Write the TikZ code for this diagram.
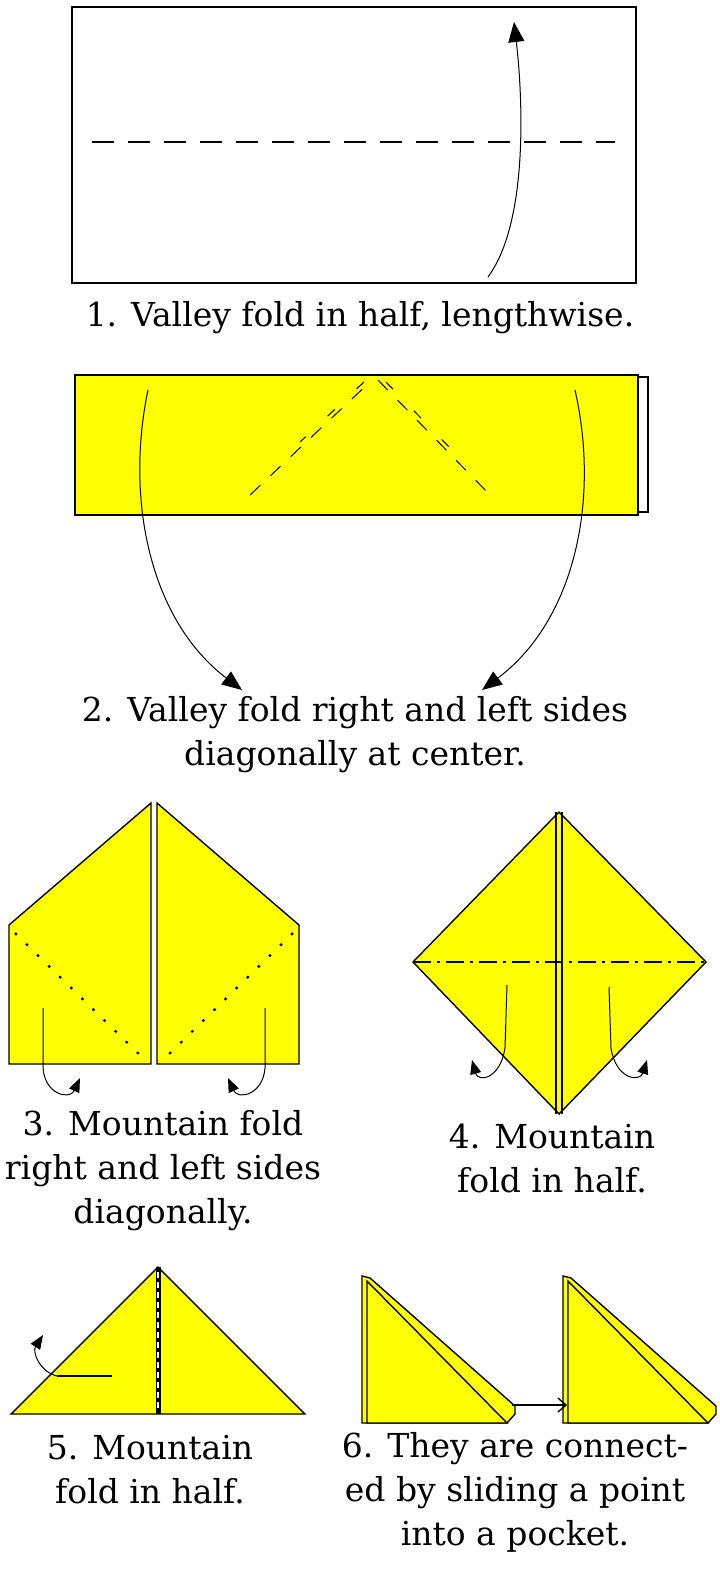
\documentclass[tikz,border=0pt]{standalone}
\usepackage{fontspec}
\setmainfont{DejaVu Serif}
\usetikzlibrary{arrows.meta}
\definecolor{paper}{RGB}{255,255,0}
\begin{document}
\begin{tikzpicture}[x=1pt,y=-1pt]
    \tikzstyle{folded}=[fill=paper,draw=black,line width=1.4pt,line join=miter]
    \tikzstyle{farr}=[line width=1pt,-{Triangle[length=20pt,width=16pt]}]
    \tikzstyle{sarr}=[line width=1pt,-{Triangle[length=14pt,width=11pt]}]
    \tikzstyle{capt}=[font=\fontsize{33}{44}\selectfont,align=center,inner sep=0pt]
    \useasboundingbox (0,0) rectangle (720,1575);

    % step 1
    \draw[line width=1.6pt] (72,7) rectangle (636,283);
    \draw[line width=1.2pt,dash pattern=on 22pt off 14pt] (92,142) -- (615,142);
    \draw[farr] (488,277) .. controls (530,220) and (522,90) .. (514,22);
    \node[capt] (c1) at (360,318) {1. Valley fold in half, lengthwise.};

    % step 2
    \draw[line width=1.2pt,fill=white] (630,377) rectangle (648,512);
    \draw[folded] (75,375) rectangle (638,515);
    \draw[line width=1pt,dash pattern=on 14pt off 14pt] (250,495) -- (372,380);
    \draw[line width=1pt,dash pattern=on 14pt off 14pt] (378,380) -- (490,495);
    \draw[line width=1pt,dash pattern=on 10pt off 30pt] (364,382) -- (300,442);
    \draw[line width=1pt,dash pattern=on 10pt off 30pt] (386,382) -- (450,448);
    \draw[farr] (148,390) .. controls (125,500) and (150,620) .. (242,690);
    \draw[farr] (575,390) .. controls (600,500) and (575,620) .. (482,690);
    \node[capt] (c2) at (355,735) {2. Valley fold right and left sides\\diagonally at center.};

    % step 3
    \draw[folded] (9,925) -- (151,803) -- (151,1064) -- (9,1064) -- cycle;
    \draw[folded] (157,803) -- (299,925) -- (299,1064) -- (157,1064) -- cycle;
    \draw[line width=2.2pt,dash pattern=on 2.5pt off 13pt] (15,933) -- (145,1060);
    \draw[line width=2.2pt,dash pattern=on 2.5pt off 13pt] (293,933) -- (163,1060);
    \draw[sarr] (43,1008) -- (43,1068) .. controls (45,1095) and (70,1100) .. (80,1078);
    \draw[sarr] (265,1008) -- (265,1068) .. controls (263,1095) and (238,1100) .. (228,1078);
    \node[capt] (c3) at (163,1171) {3. Mountain fold\\right and left sides\\diagonally.};

    % step 4
    \draw[folded] (559,812) -- (706,962) -- (559,1114) -- (413,962) -- cycle;
    \draw[line width=1.2pt] (556,812) -- (556,1114) (562,812) -- (562,1114);
    \draw[line width=1.6pt,dash pattern=on 18pt off 6pt on 3pt off 6pt] (413,962) -- (706,962);
    \draw[sarr] (507,985) -- (505,1048) .. controls (500,1080) and (478,1082) .. (472,1060);
    \draw[sarr] (609,987) -- (611,1048) .. controls (616,1080) and (640,1082) .. (647,1060);
    \node[capt] (c4) at (552,1158) {4. Mountain\\fold in half.};

    % step 5
    \draw[folded] (158,1267) -- (305,1414) -- (11,1414) -- cycle;
    \draw[line width=5pt] (158,1267) -- (158,1414);
    \draw[line width=1.2pt,white,dash pattern=on 6pt off 4pt] (158,1272) -- (158,1412);
    \draw[line width=1.4pt] (57,1376) -- (112,1376);
    \draw[sarr] (57,1376) .. controls (40,1372) and (32,1352) .. (43,1335);
    \node[capt] (c5) at (150,1470) {5. Mountain\\fold in half.};

    % step 6
    \foreach \dx in {0,201} {
        \begin{scope}[xshift=\dx]
            \draw[folded] (362,1276) -- (370,1278) -- (515,1406) -- (515,1414) -- (507,1423) -- (362,1423) -- cycle;
            \draw[folded] (367,1281) -- (507,1423) -- (367,1423) -- cycle;
        \end{scope}
    }
    \coordinate (p1) at (512,1405);
    \coordinate (p2) at (567,1405);
    \draw[line width=1.4pt,-{Straight Barb[length=8pt,width=14pt]}] (p1) -- (p2);
    \node[capt] (c6) at (515,1492) {6. They are connect-\\ed by sliding a point\\into a pocket.};
\end{tikzpicture}
\end{document}
